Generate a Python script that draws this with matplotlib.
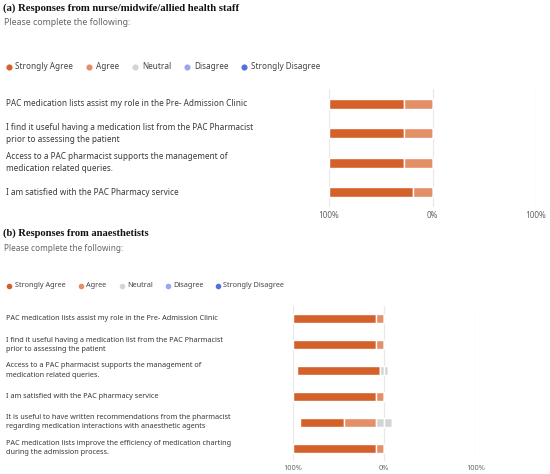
import matplotlib as mpl
mpl.use('Agg')
import matplotlib.pyplot as plt
import matplotlib.transforms as mtransforms
from matplotlib.lines import Line2D

# categories and colours
levels = ["Strongly Agree", "Agree", "Neutral", "Disagree", "Strongly Disagree"]
colors = ["#d4602a", "#e38f67", "#d4d4d4", "#98a8f0", "#5470e0"]

# panel (a) nurse/midwife/allied health staff, % of responses
questions_a = [
    "PAC medication lists assist my role in the Pre- Admission Clinic",
    "I find it useful having a medication list from the PAC Pharmacist\nprior to assessing the patient",
    "Access to a PAC pharmacist supports the management of\nmedication related queries.",
    "I am satisfied with the PAC Pharmacy service",
]
sa_a = [72, 72, 72, 81]
ag_a = [28, 28, 28, 19]
ne_a = [0, 0, 0, 0]
di_a = [0, 0, 0, 0]
sd_a = [0, 0, 0, 0]

# panel (b) anaesthetists, % of responses
questions_b = [
    "PAC medication lists assist my role in the Pre- Admission Clinic",
    "I find it useful having a medication list from the PAC Pharmacist\nprior to assessing the patient",
    "Access to a PAC pharmacist supports the management of\nmedication related queries.",
    "I am satisfied with the PAC pharmacy service",
    "It is useful to have written recommendations from the pharmacist\nregarding medication interactions with anaesthetic agents",
    "PAC medication lists improve the efficiency of medication charting\nduring the admission process.",
]
sa_b = [91, 91, 91, 91, 48, 91]
ag_b = [9, 9, 0, 9, 35, 9]
ne_b = [0, 0, 9, 0, 17, 0]
di_b = [0, 0, 0, 0, 0, 0]
sd_b = [0, 0, 0, 0, 0, 0]

W, H = 550, 474
fig = plt.figure(figsize=(W / 100, H / 100), dpi=100)
SANS = ["Noto Sans", "DejaVu Sans"]


def fx(px):
    return px / W


def fy(py):
    return 1 - py / H


def panel(title, questions, sa, ag, ne, di, sd, top, sub_y, s, title_size, sub_size,
          box, legend_x, h):
    # title and subtitle
    fig.text(fx(3), fy(top), title, fontsize=title_size, fontweight="bold",
             family="Liberation Serif", va="center", ha="left", color="#111111")
    fig.text(fx(4), fy(sub_y), "Please complete the following:",
             fontsize=sub_size, family=SANS, va="center", color="#666666")
    # legend row
    ly = top + 59 * s
    for name, c, (mx, tx) in zip(levels, colors, legend_x):
        fig.lines.append(Line2D([fx(mx)], [fy(ly)], marker="o", markersize=3.4 * s,
                                color=c, transform=fig.transFigure))
        fig.text(fx(tx), fy(ly), name, fontsize=5.9 * s, family=SANS,
                 va="center", color="#444444")

    x0, x1, y0, y1 = box
    ax = fig.add_axes([fx(x0), fy(y1), fx(x1) - fx(x0), (y1 - y0) / H])
    n = len(questions)
    y = list(range(n))
    # diverging layout: agree to the left, neutral centred on zero
    left_sa = [-(a + b + c / 2) for a, b, c in zip(sa, ag, ne)]
    left_ag = [-(b + c / 2) for b, c in zip(ag, ne)]
    left_ne = [-c / 2 for c in ne]
    ne_half = [c / 2 for c in ne]
    left_di = [c / 2 for c in ne]
    left_sd = [c / 2 + d for c, d in zip(ne, di)]
    kw = dict(height=h, edgecolor="white", linewidth=1.0, zorder=3)
    ax.barh(y, sa, left=left_sa, color=colors[0], **kw)
    ax.barh(y, ag, left=left_ag, color=colors[1], **kw)
    ax.barh(y, ne_half, left=left_ne, color=colors[2], **kw)
    ax.barh(y, ne_half, left=[0] * n, color=colors[2], **kw)
    ax.barh(y, di, left=left_di, color=colors[3], **kw)
    ax.barh(y, sd, left=left_sd, color=colors[4], **kw)

    ax.set_xlim(-100, 100)
    ax.set_ylim(n - 0.5, -0.5)
    for v in (-100, 0, 100):
        ax.axvline(v, color="#e9e9e9", linewidth=0.9, zorder=1)
    for sp in ax.spines.values():
        sp.set_visible(False)
    ax.set_yticks([])
    ax.set_xticks([-100, 0, 100])
    ax.set_xticklabels(["100%", "0%", "100%"], fontsize=5.9 * s, family=SANS,
                       color="#666666")
    ax.tick_params(axis="x", length=0, pad=3)

    trans = mtransforms.blended_transform_factory(fig.transFigure, ax.transData)
    for i, q in enumerate(questions):
        ax.text(fx(6), i, q, transform=trans, fontsize=5.9 * s, family=SANS,
                va="center", ha="left", color="#3a3a3a", linespacing=1.45,
                clip_on=False)
    return ax


panel("(a) Responses from nurse/midwife/allied health staff", questions_a,
      sa_a, ag_a, ne_a, di_a, sd_a, top=8, sub_y=22.5, s=1.0,
      title_size=7.65, sub_size=6.3,
      box=(329, 536, 89, 207),
      legend_x=[(9, 15), (89, 96), (135, 142), (187, 194), (244, 251)], h=0.34)

panel("(b) Responses from anaesthetists", questions_b,
      sa_b, ag_b, ne_b, di_b, sd_b, top=233.3, sub_y=248.5, s=0.89,
      title_size=7.6, sub_size=5.95,
      box=(292.7, 475.3, 306, 461),
      legend_x=[(9.3, 15), (80.7, 86), (121.7, 127), (168.3, 173), (218.3, 223)], h=0.35)

fig.savefig("out.png", dpi=100, facecolor="white")
